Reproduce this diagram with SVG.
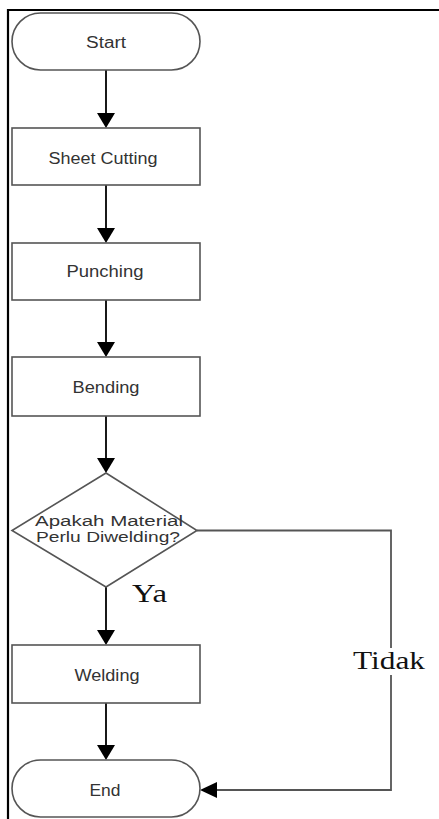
<svg xmlns="http://www.w3.org/2000/svg" width="439" height="819" viewBox="0 0 439 819">
<defs>
<style>
.shape{fill:#fff;stroke:#555;stroke-width:1.6}
.lbl{font-family:"Liberation Sans",Arial,sans-serif;font-size:16px;fill:#333;text-anchor:middle}
.dl{font-size:14px}
.ser{font-family:"Liberation Serif","Times New Roman",serif;font-size:26px;fill:#111}
.conn{fill:none;stroke:#000;stroke-width:1.8}
.conn2{fill:none;stroke:#555;stroke-width:1.8}
.head{fill:#000}
</style>
</defs>
<rect width="439" height="819" fill="#fff"/>
<path d="M8,819 V10 H439" fill="none" stroke="#000" stroke-width="2.2"/>

<g id="connectors">
<line class="conn" x1="106" y1="70" x2="106" y2="114"/>
<path class="head" d="M97,113 L115,113 L106,128 Z"/>
<line class="conn" x1="106" y1="185" x2="106" y2="229"/>
<path class="head" d="M97,228 L115,228 L106,243 Z"/>
<line class="conn" x1="106" y1="300" x2="106" y2="343"/>
<path class="head" d="M97,342 L115,342 L106,357 Z"/>
<line class="conn" x1="106" y1="416" x2="106" y2="459"/>
<path class="head" d="M97,458 L115,458 L106,473 Z"/>
<line class="conn" x1="106" y1="587" x2="106" y2="631"/>
<path class="head" d="M97,630 L115,630 L106,645 Z"/>
<line class="conn" x1="106" y1="703" x2="106" y2="746"/>
<path class="head" d="M97,745 L115,745 L106,760 Z"/>
<path class="conn2" d="M197,530.5 H391 V790 H216"/>
<path class="head" d="M217,782 L217,798 L200,790 Z"/>
</g>

<g id="start">
<rect class="shape" x="12" y="13" width="188" height="57" rx="28.5" ry="28.5"/>
<text class="lbl" x="106" y="48" textLength="40" lengthAdjust="spacingAndGlyphs">Start</text>
</g>
<g id="sheet-cutting">
<rect class="shape" x="12" y="128" width="188" height="57"/>
<text class="lbl" x="103" y="164" textLength="109" lengthAdjust="spacingAndGlyphs">Sheet Cutting</text>
</g>
<g id="punching">
<rect class="shape" x="12" y="243" width="188" height="57"/>
<text class="lbl" x="105" y="277" textLength="77" lengthAdjust="spacingAndGlyphs">Punching</text>
</g>
<g id="bending">
<rect class="shape" x="12" y="357" width="188" height="59"/>
<text class="lbl" x="106" y="393" textLength="67" lengthAdjust="spacingAndGlyphs">Bending</text>
</g>
<g id="decision">
<path class="shape" d="M106,473 L197,530.5 L106,587 L12,530.5 Z"/>
<text class="lbl dl" x="109" y="526" textLength="148" lengthAdjust="spacingAndGlyphs">Apakah Material</text>
<text class="lbl dl" x="108" y="542" textLength="144" lengthAdjust="spacingAndGlyphs">Perlu Diwelding?</text>
</g>
<g id="welding">
<rect class="shape" x="12" y="645" width="188" height="58"/>
<text class="lbl" x="107" y="681" textLength="65" lengthAdjust="spacingAndGlyphs">Welding</text>
</g>
<g id="end">
<rect class="shape" x="12" y="760" width="188" height="57" rx="28.5" ry="28.5"/>
<text class="lbl" x="105" y="796" textLength="31" lengthAdjust="spacingAndGlyphs">End</text>
</g>
<text class="ser" x="132" y="602" textLength="35" lengthAdjust="spacingAndGlyphs">Ya</text>
<rect x="352" y="648" width="74" height="27" fill="#fff"/>
<text class="ser" x="353" y="669" textLength="72" lengthAdjust="spacingAndGlyphs">Tidak</text>
</svg>
